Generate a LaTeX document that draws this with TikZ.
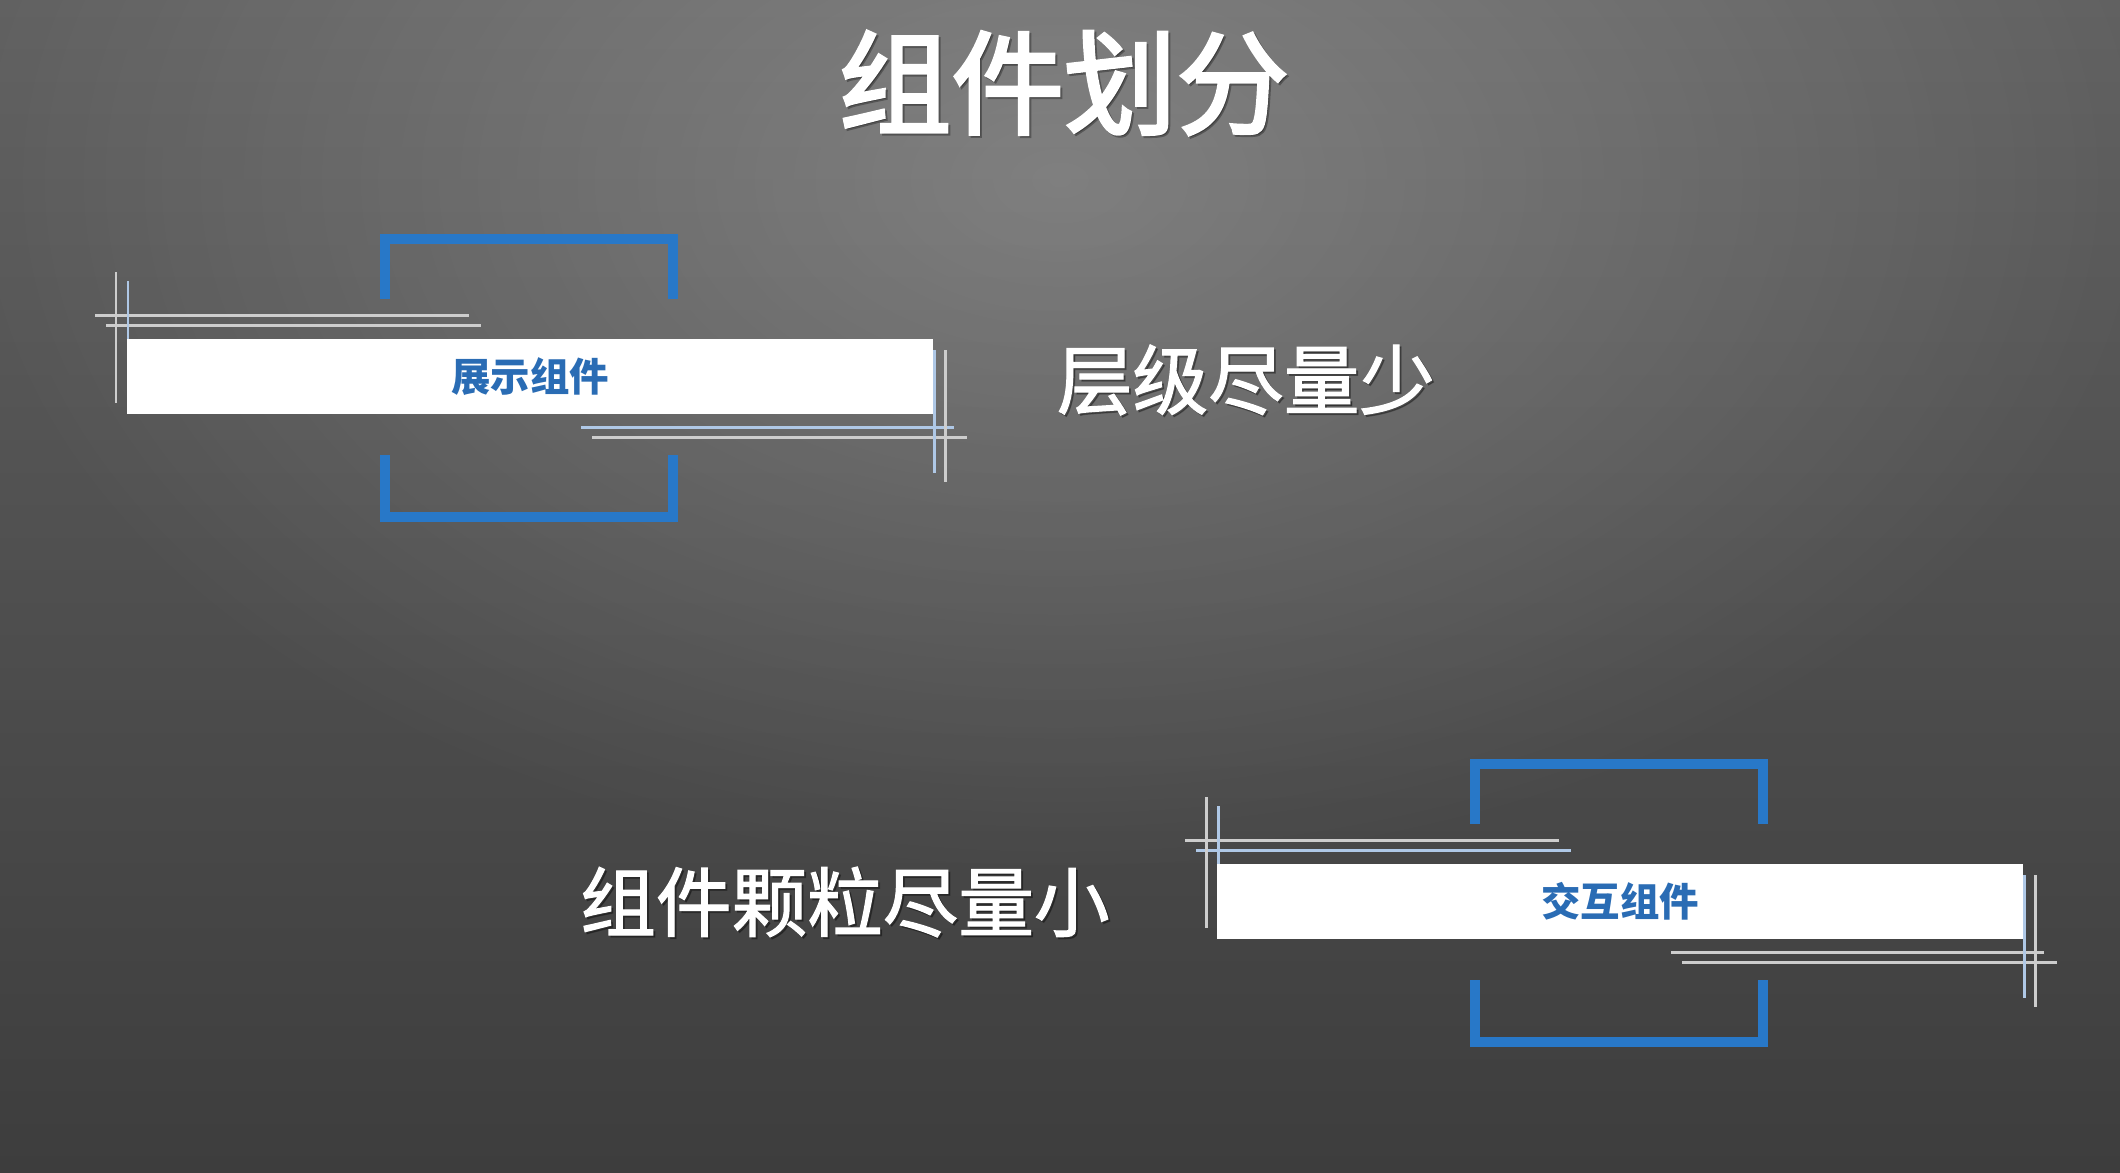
\documentclass[tikz,border=0pt]{standalone}
\usepackage{fontspec}
\usetikzlibrary{fadings}
\tikzfading[name=myglow, inner color=transparent!0, outer color=transparent!100]
\newfontfamily\cjk{Noto Sans CJK SC}
\newfontfamily\cjkmed[FakeBold=1.6]{Noto Sans CJK SC}
\newfontfamily\cjktitle[FakeBold=2.8]{Noto Sans CJK SC}
\definecolor{bgtop}{RGB}{97,97,97}
\definecolor{bgbot}{RGB}{61,61,61}
\definecolor{brblue}{RGB}{40,120,200}
\definecolor{txtblue}{RGB}{42,108,180}
\definecolor{linegray}{RGB}{205,205,205}
\definecolor{lineblue}{RGB}{175,200,230}
\begin{document}
\begin{tikzpicture}[x=0.01cm,y=-0.01cm,
  bluebr/.style={draw=brblue,line width=2.6pt},
  thinw/.style={draw=linegray,line width=0.85pt},
  thinb/.style={draw=lineblue,line width=0.85pt},
  bar/.style={fill=white,inner sep=0pt,minimum width=8.06cm,minimum height=0.75cm,text=txtblue,font=\cjk\bfseries\fontsize{11.2}{13}\selectfont},
  bigtxt/.style={text=white,font=\cjkmed\fontsize{21.5}{26}\selectfont,inner sep=0pt},
  shadowtxt/.style={text=black,opacity=0.3,font=\cjkmed\fontsize{21.5}{26}\selectfont,inner sep=0pt}]
\useasboundingbox (0,0) rectangle (2120,1172);
\shade[top color=bgtop,bottom color=bgbot] (0,0) rectangle (2120,1172);
\begin{scope}
\clip (0,0) rectangle (2120,1172);
\fill[white,opacity=0.22,path fading=myglow] (1060,180) ellipse (1100 and 700);
\end{scope}
% title
\node[text=black,opacity=0.3,inner sep=0pt,font=\cjktitle\fontsize{32}{38}\selectfont] (titlesh) at (1066,85) {组件划分};
\node[text=white,inner sep=0pt,font=\cjktitle\fontsize{32}{38}\selectfont] (title) at (1064,83) {组件划分};
% group 1
\coordinate (g1h1a) at (95,315); \coordinate (g1h1b) at (469,315);
\coordinate (g1h2a) at (106,325); \coordinate (g1h2b) at (481,325);
\coordinate (g1v1a) at (116,272); \coordinate (g1v1b) at (116,403);
\coordinate (g1v2a) at (128,281); \coordinate (g1v2b) at (128,339);
\coordinate (g1h3a) at (581,427); \coordinate (g1h3b) at (954,427);
\coordinate (g1h4a) at (592,437); \coordinate (g1h4b) at (967,437);
\coordinate (g1v3a) at (934,350); \coordinate (g1v3b) at (934,473);
\coordinate (g1v4a) at (945,350); \coordinate (g1v4b) at (945,482);
\draw[thinw] (g1h1a) -- (g1h1b);
\draw[thinw] (g1h2a) -- (g1h2b);
\draw[thinw] (g1v1a) -- (g1v1b);
\draw[thinb] (g1v2a) -- (g1v2b);
\draw[thinb] (g1h3a) -- (g1h3b);
\draw[thinw] (g1h4a) -- (g1h4b);
\draw[thinb] (g1v3a) -- (g1v3b);
\draw[thinw] (g1v4a) -- (g1v4b);
\draw[bluebr] (385,299) -- (385,239) -- (673,239) -- (673,299);
\draw[bluebr] (385,455) -- (385,517) -- (673,517) -- (673,455);
\node[bar] (bar1) at (530,376.5) {展示组件};
\node[shadowtxt] (lab1sh) at (1248,382) {层级尽量少};
\node[bigtxt] (lab1) at (1246,380) {层级尽量少};
% group 2
\begin{scope}[shift={(1090,525)}]
\coordinate (g2h1a) at (95,315); \coordinate (g2h1b) at (469,315);
\coordinate (g2h2a) at (106,325); \coordinate (g2h2b) at (481,325);
\coordinate (g2v1a) at (116,272); \coordinate (g2v1b) at (116,403);
\coordinate (g2v2a) at (128,281); \coordinate (g2v2b) at (128,339);
\coordinate (g2h3a) at (581,427); \coordinate (g2h3b) at (954,427);
\coordinate (g2h4a) at (592,437); \coordinate (g2h4b) at (967,437);
\coordinate (g2v3a) at (934,350); \coordinate (g2v3b) at (934,473);
\coordinate (g2v4a) at (945,350); \coordinate (g2v4b) at (945,482);
\draw[thinw] (g2h1a) -- (g2h1b);
\draw[thinb] (g2h2a) -- (g2h2b);
\draw[thinw] (g2v1a) -- (g2v1b);
\draw[thinb] (g2v2a) -- (g2v2b);
\draw[thinw] (g2h3a) -- (g2h3b);
\draw[thinw] (g2h4a) -- (g2h4b);
\draw[thinb] (g2v3a) -- (g2v3b);
\draw[thinw] (g2v4a) -- (g2v4b);
\draw[bluebr] (385,299) -- (385,239) -- (673,239) -- (673,299);
\draw[bluebr] (385,455) -- (385,517) -- (673,517) -- (673,455);
\node[bar] (bar2) at (530,376.5) {交互组件};
\end{scope}
\node[shadowtxt] (lab2sh) at (847,904) {组件颗粒尽量小};
\node[bigtxt] (lab2) at (845,902) {组件颗粒尽量小};
\end{tikzpicture}
\end{document}
